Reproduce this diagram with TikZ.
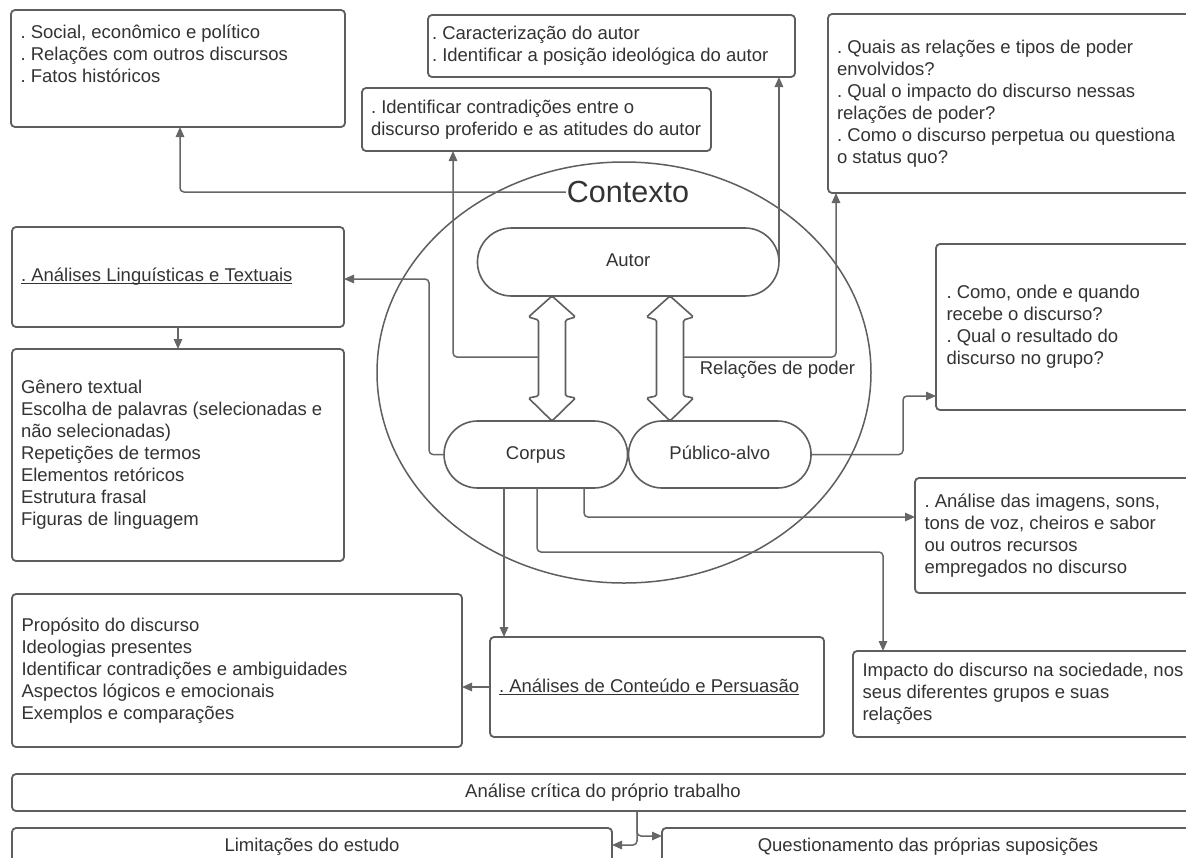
\documentclass[tikz,border=0pt]{standalone}
\usepackage{fontspec}
\setmainfont{Liberation Sans}
\usetikzlibrary{arrows.meta,shapes.misc,shapes.geometric,calc}
\definecolor{boxc}{HTML}{5E5E5E}
\definecolor{txtc}{HTML}{333333}
\definecolor{arrc}{HTML}{666666}
\newsavebox{\ulbox}
\newcommand{\myul}[1]{\sbox{\ulbox}{#1}\rlap{\rule[-2.5pt]{\wd\ulbox}{1.1pt}}\usebox{\ulbox}}
\frenchspacing
\begin{document}
\begin{tikzpicture}[x=1pt,y=-1pt,
  every node/.style={text=txtc, font=\fontsize{18.5}{22}\selectfont\frenchspacing, outer sep=0pt},
  box/.style={draw=boxc, line width=1.8pt, rounded corners=4pt, fill=white, inner sep=0pt, anchor=north west},
  cbox/.style={draw=boxc, line width=1.8pt, rounded corners=4pt, fill=white, inner sep=0pt, align=center, anchor=north west},
  txt/.style={inner sep=0pt, align=left, anchor=west},
  pill/.style={draw=boxc, line width=1.6pt, rounded rectangle, fill=white, inner sep=0pt, text height=13pt, text depth=4pt},
  dbl/.style={draw=boxc, line width=1.6pt, fill=white, rounded corners=1.5pt},
  conn/.style={draw=arrc, line width=1.5pt, rounded corners=4pt, -{Triangle[length=10pt,width=8.5pt]}},
  ]
\useasboundingbox (0,0) rectangle (1186,857);
\clip (0,0) rectangle (1186,857);
\fill[white] (0,0) rectangle (1186,857);

% context ellipse
\node[ellipse, draw=boxc, line width=1.5pt, minimum width=494pt, minimum height=421pt, inner sep=0pt] (ctxell) at (624,372.5) {};
\node[font=\fontsize{30.5}{36}\selectfont, inner sep=1pt] (contexto) at (628,192) {Contexto};

% boxes
\node[box, minimum width=334pt, minimum height=117pt] (b1) at (11,10) {};
\node[txt] (t1) at (20.5,54) {. Social, econômico e político\\. Relações com outros discursos\\. Fatos históricos};

\node[box, minimum width=367pt, minimum height=62pt] (b2) at (428,15) {};
\node[txt] (t2) at ([xshift=4pt]b2.west) {. Caracterização do autor\\. Identificar a posição ideológica do autor};

\node[box, minimum width=349pt, minimum height=63pt] (b3) at (362,88) {};
\node[txt] (t3) at ([xshift=9pt]b3.west) {. Identificar contradições entre o\\discurso proferido e as atitudes do autor};

\node[box, minimum width=367pt, minimum height=179pt] (b4) at (828,14) {};
\node[txt] (t4) at ([xshift=9pt]b4.west) {. Quais as relações e tipos de poder\\envolvidos?\\. Qual o impacto do discurso nessas\\relações de poder?\\. Como o discurso perpetua ou questiona\\o status quo?};

\node[box, minimum width=332pt, minimum height=100pt] (b5) at (12,227) {};
\node[txt] (t5) at ([xshift=9pt]b5.west) {\myul{. Análises Linguísticas e Textuais}};

\node[box, minimum width=332pt, minimum height=212pt] (b6) at (12,349) {};
\node[txt] (t6) at ([xshift=9pt]b6.west) {Gênero textual\\Escolha de palavras (selecionadas e\\não selecionadas)\\Repetições de termos\\Elementos retóricos\\Estrutura frasal\\Figuras de linguagem};

\node[box, minimum width=259pt, minimum height=166pt] (b7) at (936,244) {};
\node[txt] (t7) at ([xshift=10.5pt]b7.west) {. Como, onde e quando\\recebe o discurso?\\. Qual o resultado do\\discurso no grupo?};

\node[box, minimum width=280pt, minimum height=115pt] (b8) at (915,478) {};
\node[txt] (t8) at ([xshift=9.5pt]b8.west) {. Análise das imagens, sons,\\tons de voz, cheiros e sabor\\ou outros recursos\\empregados no discurso};

\node[box, minimum width=347pt, minimum height=86pt] (b9) at (853,651) {};
\node[txt] (t9) at ([xshift=9.5pt]b9.west) {Impacto do discurso na sociedade, nos\\seus diferentes grupos e suas\\relações};

\node[box, minimum width=450pt, minimum height=153pt] (b10) at (12,594) {};
\node[txt] (t10) at ([xshift=9.5pt]b10.west) {Propósito do discurso\\Ideologias presentes\\Identificar contradições e ambiguidades\\Aspectos lógicos e emocionais\\Exemplos e comparações};

\node[box, minimum width=334pt, minimum height=100pt] (b11) at (490,637) {};
\node[txt] (t11) at ([xshift=9pt]b11.west) {\myul{. Análises de Conteúdo e Persuasão}};

\node[cbox, minimum width=1182pt, minimum height=37pt] (b12) at (12,774) {Análise crítica do próprio trabalho};
\node[cbox, minimum width=600pt, minimum height=37pt] (b13) at (12,828) {Limitações do estudo};
\node[cbox, minimum width=532pt, minimum height=37pt] (b14) at (662,828) {Questionamento das próprias suposições};

% pills
\node[pill, minimum width=301.5pt, minimum height=68pt] (autor) at (628.2,262) {Autor};
\node[pill, minimum width=183.5pt, minimum height=67pt] (corpus) at (535.8,454.5) {Corpus};
\node[pill, minimum width=182.5pt, minimum height=67pt] (publico) at (719.8,454.5) {Público-alvo};

% double arrows
\draw[dbl] (552,296) -- (575.5,317) -- (565.5,320) -- (565.5,396) -- (575.5,398) -- (552,421) -- (528.5,398) -- (538.5,396) -- (538.5,320) -- (528.5,317) -- cycle;
\draw[dbl] (670,296) -- (693.5,317) -- (683.5,320) -- (683.5,396) -- (693.5,398) -- (670,421) -- (646.5,398) -- (656.5,396) -- (656.5,320) -- (646.5,317) -- cycle;
\coordinate (laL) at (538.5,357);
\coordinate (raR) at (683.5,357);

\node (rel) at (777.5,370) {Relações de poder};

% connectors
\draw[conn] (contexto.west) -| ([xshift=2pt]b1.south);
\draw[conn] (autor.east) -- (autor.east |- b2.south);
\draw[conn] (laL) -| (b3.south -| 453,0);
\draw[conn] (raR) -| (b4.south -| 836,0);
\draw[conn] (corpus.west) -- ++(-15,0) |- (b5.east |- 0,279);
\draw[conn] (b5.south) -- (b6.north);
\draw[conn] (publico.east) -- (publico.east -| 903,0) |- (b7.west |- 0,396);
\draw[conn] (corpus.south -| 504,0) -- (b11.north -| 504,0);
\draw[conn] (corpus.south -| 537,0) |- (883,552) -- (b9.north -| 883,0);
\draw[conn] (corpus.south -| 584,0) |- (b8.west |- 0,517);
\draw[conn] (b11.west) -- (b10.east |- b11.west);
\draw[conn] (b12.south -| 637,0) |- (b13.east |- 0,845);
\draw[conn] (b12.south -| 637,0) |- (b14.west |- 0,836);
\end{tikzpicture}
\end{document}
